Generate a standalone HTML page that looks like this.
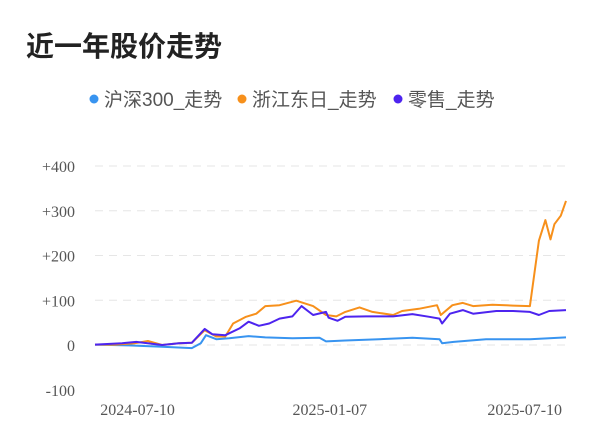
<!DOCTYPE html>
<html><head><meta charset="utf-8"><style>
html,body{margin:0;padding:0;background:#fff;}
svg{display:block;font-family:"Liberation Sans","Noto Sans CJK SC",sans-serif;}
.tk{font-family:"Liberation Serif","Noto Serif CJK SC",serif;}
</style></head><body>
<svg id="c" width="600" height="446" viewBox="0 0 600 446">
<text x="26" y="56" font-size="28" font-weight="bold" fill="#222">近一年股价走势</text>
<g>
<g><circle cx="94" cy="99" r="4.5" fill="#3894f0"/><text x="104" y="106" font-size="19" fill="#555">沪深300_走势</text></g>
<g><circle cx="242" cy="99" r="4.5" fill="#f7901b"/><text x="252" y="106" font-size="19" fill="#555">浙江东日_走势</text></g>
<g><circle cx="398" cy="99" r="4.5" fill="#4d24ef"/><text x="408" y="106" font-size="19" fill="#555">零售_走势</text></g>
</g>
<g id="grid"></g><g id="yl"></g><g id="xl"></g><g id="lines"></g>
</svg>
<script>
const yTicks=[400,300,200,100,0,-100];
const yTickLabels=["+400","+300","+200","+100","0","-100"];
const xTickDays=[33,182,333];
const xTickLabels=["2024-07-10","2025-01-07","2025-07-10"];
const blueDays=[0,26,52,75,82,86,94,104,119,132,153,174,179,194,220,246,267,269,278,303,337,365];
const blueVals=[1,-1,-4,-7,4,22,13,15,20,17,15,16,8,10,13,16,13,4,7,13,13,17];
const orangeDays=[0,16,31,41,52,65,75,85,94,101,107,117,125,132,143,156,169,179,187,194,205,215,231,238,251,265,268,277,285,293,308,324,337,344,349,353,356,361,365];
const orangeVals=[1,1,4,9,0,4,5,33,19,19,48,63,70,87,89,99,87,67,64,74,84,74,67,76,81,89,67,89,94,87,90,88,87,233,279,236,270,289,322];
const purpleDays=[0,21,32,52,65,75,85,91,101,112,119,127,135,143,153,160,169,179,181,188,194,210,231,246,259,267,269,275,285,293,311,324,337,344,352,365];
const purpleVals=[1,4,7,0,4,5,36,24,22,37,52,43,48,59,64,87,67,74,61,54,63,64,64,69,63,59,48,70,78,70,76,76,74,67,76,78];
const X0=95,X1=566,DMAX=365;
const xs=d=>X0+(X1-X0)*d/DMAX;
const ys=v=>345-v*0.4475;
const NS="http://www.w3.org/2000/svg";
function mk(tag,attrs,parent){const e=document.createElementNS(NS,tag);for(const k in attrs)e.setAttribute(k,attrs[k]);document.getElementById(parent).appendChild(e);return e;}
yTicks.forEach((t,i)=>{
  if(t!==-100){const g=mk('line',{x1:95,x2:566,y1:ys(t),y2:ys(t),stroke:'#e6e6e6','stroke-dasharray':'8,6'},'grid');
  
  }
  const l=mk('text',{x:75,y:ys(t)+6,'text-anchor':'end','font-size':16,fill:'#555',class:'tk'},'yl');
  l.textContent=yTickLabels[i];
  
  
});
xTickDays.forEach((d,i)=>{
  const l=mk('text',{x:xs(d),y:415,'text-anchor':'middle','font-size':16,fill:'#555',class:'tk'},'xl');
  l.textContent=xTickLabels[i];
  
  
});
function line(days,vals,color,name){
  const d=days.map((dd,i)=>(i?'L':'M')+xs(dd).toFixed(1)+','+ys(vals[i]).toFixed(1)).join(' ');
  const p=mk('path',{d:d,fill:'none',stroke:color,'stroke-width':2,'stroke-linejoin':'round'},'lines');
  
  
}
line(blueDays,blueVals,'#3894f0','line-hs300');
line(orangeDays,orangeVals,'#f7901b','line-zhejiang-dongri');
line(purpleDays,purpleVals,'#4d24ef','line-retail');
</script>
</body></html>
